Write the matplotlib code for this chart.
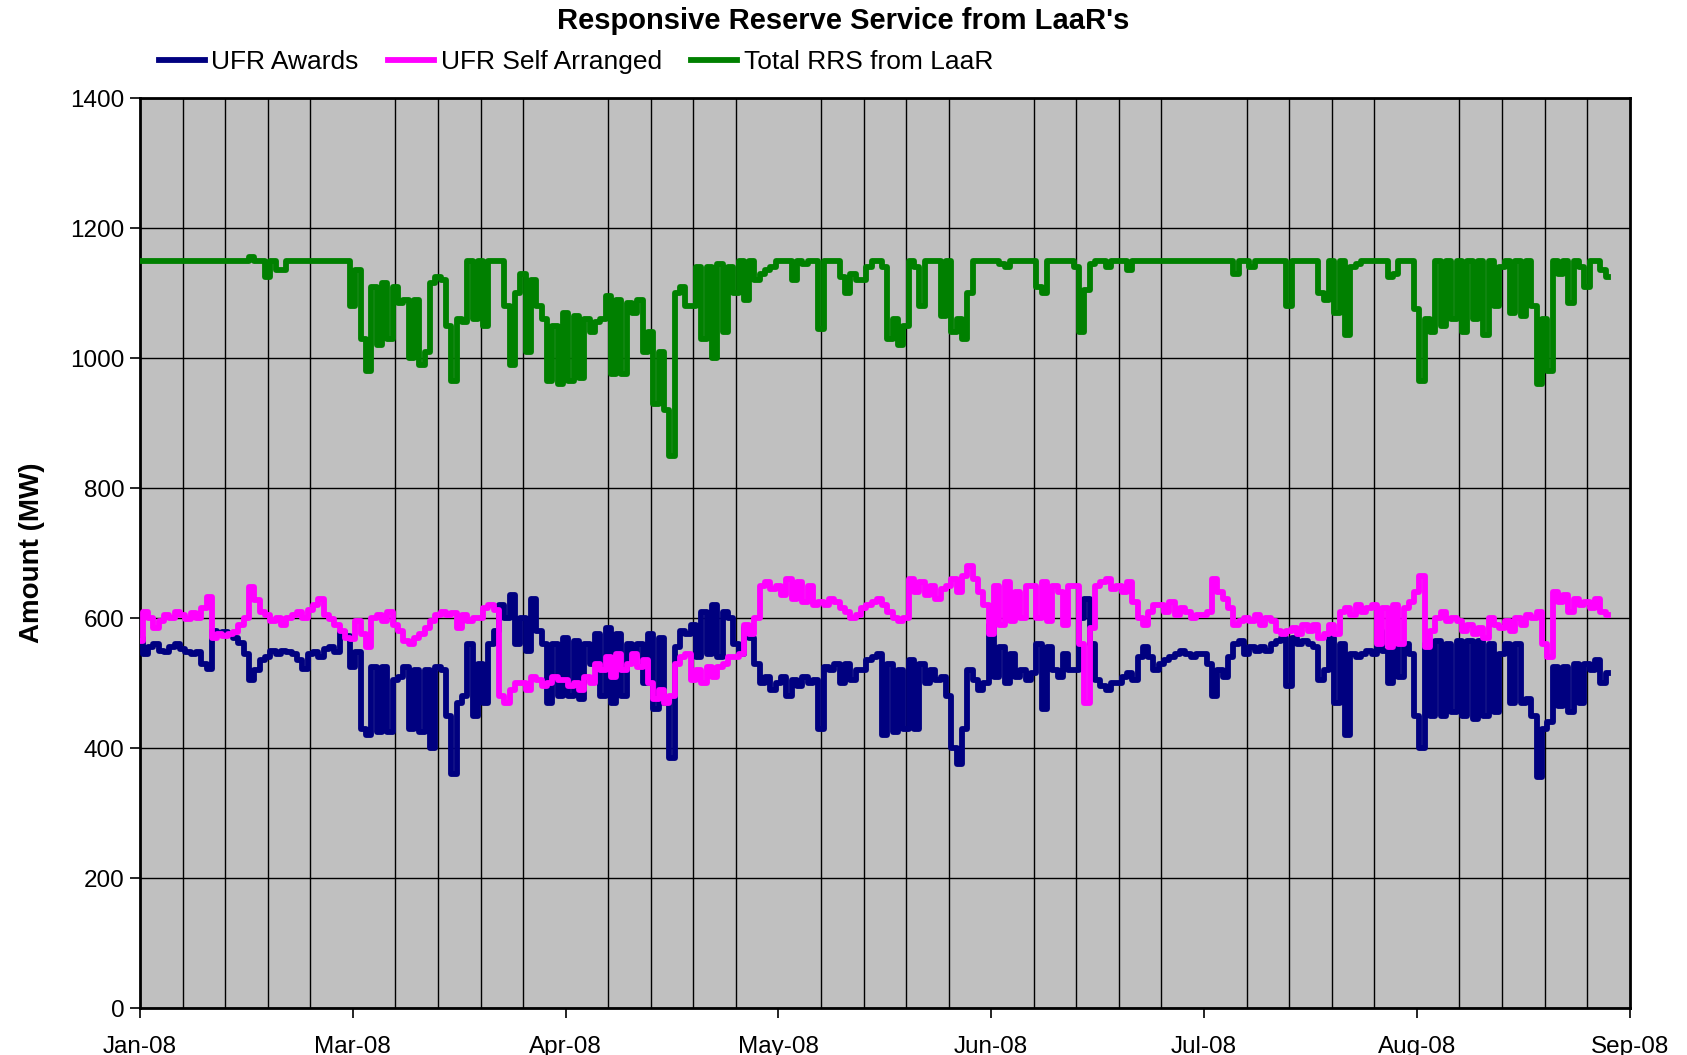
#!/usr/bin/env python3
"""Responsive Reserve Service from LaaR's - UFR awards, self arranged and total."""

import matplotlib as mpl
import matplotlib.pyplot as plt
import numpy as np

mpl.rcParams.update({
    "font.family": ["Liberation Sans", "DejaVu Sans"],
    "font.size": 17,
})

SAMPLES_PER_WEEK = 8
MONTH_LABELS = ["Jan-08", "Mar-08", "Apr-08", "May-08", "Jun-08", "Jul-08", "Aug-08", "Sep-08"]
Y_TICKS = [0, 200, 400, 600, 800, 1000, 1200, 1400]

ufr_awards = [
    570, 545, 555, 560, 550, 548, 555, 560,
    553, 548, 545, 548, 530, 522, 580, 575,
    578, 575, 570, 562, 545, 505, 520, 535,
    540, 550, 545, 550, 548, 545, 535, 522,
    545, 548, 540, 552, 555, 548, 578, 572,
    525, 548, 430, 420, 525, 425, 525, 425,
    505, 510, 525, 430, 520, 425, 520, 400,
    525, 520, 450, 360, 470, 480, 560, 450,
    530, 470, 560, 580, 620, 600, 635, 560,
    600, 550, 630, 580, 560, 470, 560, 480,
    570, 480, 565, 475, 560, 530, 575, 480,
    585, 470, 575, 480, 560, 545, 560, 500,
    575, 460, 570, 470, 385, 555, 580, 575,
    590, 540, 610, 545, 620, 540, 610, 600,
    560, 545, 585, 570, 530, 500, 510, 490,
    500, 510, 480, 505, 495, 510, 500, 505,
    430, 525, 520, 530, 500, 530, 505, 520,
    520, 535, 540, 545, 420, 530, 425, 520,
    430, 535, 430, 530, 500, 520, 505, 510,
    480, 400, 375, 430, 520, 505, 490, 500,
    590, 510, 555, 500, 545, 510, 520, 505,
    515, 560, 460, 555, 520, 510, 545, 520,
    520, 600, 630, 560, 505, 495, 490, 500,
    500, 510, 515, 505, 540, 555, 540, 520,
    530, 535, 540, 545, 550, 545, 540, 545,
    545, 530, 480, 520, 510, 540, 560, 565,
    545, 555, 550, 555, 550, 560, 565, 570,
    495, 570, 560, 565, 560, 555, 505, 520,
    570, 470, 560, 420, 545, 540, 545, 550,
    545, 580, 550, 500, 555, 510, 560, 545,
    450, 400, 560, 450, 565, 450, 560, 455,
    565, 450, 565, 445, 565, 450, 560, 455,
    545, 560, 470, 560, 470, 475, 450, 355,
    430, 440, 525, 465, 525, 455, 530, 470,
    530, 520, 535, 500, 515,
]

ufr_self_arranged = [
    565, 610, 600, 585, 595, 605, 600, 610,
    605, 598, 608, 600, 615, 632, 570, 575,
    572, 575, 578, 590, 600, 648, 628, 610,
    605, 595, 600, 590, 600, 605, 610, 600,
    612, 620, 630, 605, 598, 590, 580, 570,
    568, 595, 575, 555, 600, 605, 595, 610,
    590, 580, 565, 560, 570, 575, 585, 595,
    605, 610, 605, 608, 585, 605, 595, 600,
    600, 615, 620, 612, 480, 470, 490, 500,
    500, 490, 510, 505, 495, 500, 510, 505,
    505, 495, 500, 490, 510, 500, 530, 520,
    540, 510, 545, 520, 530, 545, 525, 535,
    500, 475, 490, 470, 480, 530, 540, 545,
    505, 520, 500, 525, 510, 525, 530, 540,
    540, 545, 590, 575, 600, 650, 655, 645,
    650, 635, 660, 630, 655, 625, 650, 620,
    625, 620, 630, 625, 615, 610, 600, 605,
    615, 620, 625, 630, 620, 610, 600, 595,
    600, 660, 640, 655, 635, 650, 630, 645,
    650, 660, 640, 665, 680, 660, 640, 620,
    575, 650, 590, 655, 595, 640, 600, 650,
    650, 600, 655, 595, 650, 640, 590, 650,
    650, 560, 470, 585, 650, 655, 660, 645,
    650, 640, 655, 625, 600, 590, 610, 620,
    620, 610, 625, 605, 615, 610, 600, 605,
    605, 610, 660, 640, 630, 615, 590, 595,
    600, 595, 605, 590, 600, 595, 580, 575,
    580, 585, 575, 590, 580, 590, 570, 575,
    590, 575, 610, 615, 605, 620, 610, 615,
    620, 560, 615, 555, 620, 560, 615, 625,
    640, 665, 555, 580, 600, 610, 595, 600,
    595, 580, 590, 575, 585, 570, 600, 590,
    585, 595, 580, 600, 590, 605, 600, 610,
    560, 540, 640, 625, 635, 610, 630, 620,
    625, 615, 630, 610, 605,
]

total_rrs = [
    1150, 1150, 1150, 1150, 1150, 1150, 1150, 1150,
    1150, 1150, 1150, 1150, 1150, 1150, 1150, 1150,
    1150, 1150, 1150, 1150, 1150, 1155, 1150, 1150,
    1125, 1150, 1135, 1135, 1150, 1150, 1150, 1150,
    1150, 1150, 1150, 1150, 1150, 1150, 1150, 1150,
    1080, 1135, 1030, 980, 1110, 1020, 1115, 1030,
    1110, 1085, 1090, 1000, 1090, 990, 1010, 1115,
    1125, 1120, 1050, 965, 1060, 1055, 1150, 1060,
    1150, 1050, 1150, 1150, 1150, 1080, 990, 1100,
    1130, 1010, 1120, 1080, 1060, 965, 1050, 960,
    1070, 965, 1065, 970, 1060, 1040, 1055, 1060,
    1095, 975, 1090, 975, 1085, 1070, 1090, 1010,
    1040, 930, 1010, 920, 850, 1100, 1110, 1080,
    1080, 1140, 1030, 1140, 1000, 1145, 1040, 1140,
    1100, 1150, 1090, 1150, 1120, 1130, 1135, 1140,
    1150, 1150, 1150, 1120, 1150, 1145, 1150, 1150,
    1045, 1150, 1150, 1150, 1125, 1100, 1130, 1120,
    1120, 1140, 1150, 1150, 1140, 1030, 1060, 1020,
    1050, 1150, 1140, 1080, 1150, 1150, 1150, 1065,
    1150, 1040, 1060, 1030, 1100, 1150, 1150, 1150,
    1150, 1150, 1145, 1140, 1150, 1150, 1150, 1150,
    1150, 1110, 1100, 1150, 1150, 1150, 1150, 1150,
    1140, 1040, 1105, 1145, 1150, 1150, 1140, 1150,
    1150, 1150, 1135, 1150, 1150, 1150, 1150, 1150,
    1150, 1150, 1150, 1150, 1150, 1150, 1150, 1150,
    1150, 1150, 1150, 1150, 1150, 1150, 1130, 1150,
    1150, 1140, 1150, 1150, 1150, 1150, 1150, 1150,
    1080, 1150, 1150, 1150, 1150, 1150, 1100, 1090,
    1150, 1070, 1150, 1035, 1140, 1145, 1150, 1150,
    1150, 1150, 1150, 1125, 1130, 1150, 1150, 1150,
    1075, 965, 1060, 1040, 1150, 1050, 1150, 1060,
    1150, 1040, 1150, 1060, 1150, 1035, 1150, 1080,
    1140, 1150, 1070, 1150, 1065, 1150, 1080, 960,
    1060, 980, 1150, 1130, 1150, 1085, 1150, 1140,
    1110, 1150, 1150, 1135, 1125,
]


def main() -> None:
    fig = plt.figure(figsize=(16.87, 10.55), dpi=100)
    ax = fig.add_axes([0.083, 0.0445, 0.883, 0.8625])
    ax.set_facecolor("#C0C0C0")

    x = np.arange(len(total_rrs))
    lw = 4.2
    ax.plot(x, ufr_awards, color="#000080", lw=lw, drawstyle="steps-mid",
            solid_joinstyle="round", label="UFR Awards", zorder=3)
    ax.plot(x, ufr_self_arranged, color="#FF00FF", lw=lw, drawstyle="steps-mid",
            solid_joinstyle="round", label="UFR Self Arranged", zorder=4)
    ax.plot(x, total_rrs, color="#008000", lw=lw, drawstyle="steps-mid",
            solid_joinstyle="round", label="Total RRS from LaaR", zorder=5)

    n_weeks = 35
    ax.set_xlim(0, n_weeks * SAMPLES_PER_WEEK)
    ax.set_ylim(0, 1400)
    ax.set_yticks(Y_TICKS)
    ax.set_xticks(np.arange(len(MONTH_LABELS)) * 5 * SAMPLES_PER_WEEK)
    ax.set_xticklabels(MONTH_LABELS)
    ax.set_xticks(np.arange(n_weeks + 1) * SAMPLES_PER_WEEK, minor=True)
    ax.tick_params(axis="x", which="minor", length=0)
    ax.tick_params(axis="both", which="major", direction="out", length=7,
                   width=1.2, labelsize=17.5, pad=13)
    ax.tick_params(axis="y", pad=4)

    ax.grid(True, axis="y", which="major", color="black", lw=1.0, zorder=1)
    ax.grid(True, axis="x", which="minor", color="black", lw=1.0, zorder=1)
    ax.set_axisbelow(True)
    for side in ["left", "bottom", "top", "right"]:
        ax.spines[side].set_linewidth(2.0)
        ax.spines[side].set_color("black")

    ax.set_ylabel("Amount (MW)", fontsize=20, fontweight="bold", labelpad=18)
    fig.suptitle("Responsive Reserve Service from LaaR's", x=0.5, y=0.993,
                 fontsize=21, fontweight="bold")
    fig.legend(loc="center left", bbox_to_anchor=(0.08, 0.941), ncol=3,
               frameon=False, fontsize=19, handlelength=1.75, handletextpad=0.25,
               columnspacing=1.1)

    fig.savefig("out.png", dpi=100)


if __name__ == "__main__":
    main()
